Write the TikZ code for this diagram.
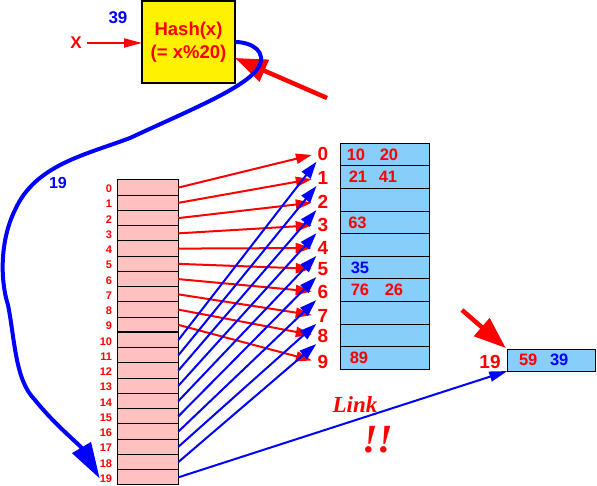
\documentclass[tikz,border=0pt]{standalone}
\usepackage{fontspec}
\setmainfont{Liberation Sans}
\newfontfamily\linkfont{Liberation Serif}
\usetikzlibrary{arrows.meta}
\definecolor{cellpink}{RGB}{255,192,192}
\definecolor{cellblue}{RGB}{135,206,250}
\newcommand{\fs}[1]{\fontsize{#1}{#1}\selectfont\bfseries}

\begin{document}
\begin{tikzpicture}[x=1pt,y=-1pt,
  every node/.style={inner sep=0pt,outer sep=0pt},
  cell/.style={draw,line width=1pt,fill=cellpink,minimum width=61pt,minimum height=15.25pt},
  bucket/.style={draw,line width=1pt,fill=cellblue,minimum width=88.3pt,minimum height=22.6pt},
  idx/.style={text=red,font=\fs{11},anchor=east},
  num/.style={text=red,font=\fs{19}},
  val/.style={font=\fs{16.5},anchor=west},
  redarr/.style={red,line width=2pt,-{Triangle[length=16pt,width=10pt]}},
  bluearr/.style={blue,line width=2pt,-{Triangle[length=17pt,width=11pt]}},
  bigarr/.style={red,line width=4.5pt,-{Triangle[length=32pt,width=23pt]}}]
  \useasboundingbox (0,0) rectangle (597,486);
  % hash function
  \node[draw,line width=2pt,fill=yellow,minimum width=93pt,minimum height=82pt,align=center,text=red,
        font=\fontsize{18.5}{23}\selectfont\bfseries] (hash) at (188.5,42) {Hash(x)\\(= x\%20)};
  \node[text=blue,font=\fs{17}] (key) at (118,18) {39};
  \node[text=red,font=\fs{17}] (x) at (76,43) {X};
  \draw[red,line width=2pt,-{Triangle[length=18pt,width=9pt]},shorten <=5pt] (x.east) -- (x.east -| hash.west);
  \coordinate (ph) at (327,98);
  \draw[bigarr] (ph) -- ([yshift=-16pt]hash.east);
  % hash table, 20 slots
  \foreach \i in {0,...,19} {
    \node[cell] (c\i) at (147.8,187.6+15.25*\i) {};
    \node[idx] (l\i) at (112,188.8+15.25*\i) {\i};
  }
  \draw[line width=2pt] (c9.south west) -- (c9.south east);
  % buckets
  \foreach \i/\y in {0/153.5,1/178,2/202,3/225,4/248,5/269,6/292,7/316,8/336,9/362} {
    \node[bucket] (b\i) at (384.9,154.6+22.6*\i) {};
    \node[num] (n\i) at (323,\y) {\i};
  }
  \foreach \r/\dx/\v/\c in {0/6/10/red,0/39/20/red,1/8/21/red,1/38/41/red,3/7.5/63/red,
                            5/10/35/blue,6/10/76/red,6/44/26/red,9/9/89/red}
    \node[val,text=\c] at ([xshift=\dx]b\r.west) {\v};
  \node[num] (n19) at (490,362) {19};
  \node[bucket,minimum height=21.7pt] (b19) at (551.5,360.2) {};
  \node[val,text=red] at ([xshift=11.7]b19.west) {59};
  \node[val,text=blue] at ([xshift=42.7]b19.west) {39};
  \coordinate (p19) at (462,310);
  \draw[bigarr,shorten >=2pt] (p19) -- (b19.north west);
  % slot -> bucket
  \foreach \i in {0,...,9}
    \draw[redarr,shorten >=6pt] (c\i.east) -- (n\i.west);
  \foreach \i in {0,...,8} {
    \pgfmathtruncatemacro\j{\i+10}
    \draw[bluearr,shorten >=2pt] (c\j.east) -- (n\i.south west);
  }
  \draw[blue,line width=2pt,-{Triangle[length=18pt,width=10pt]}] (c19.east) -- (b19.south west);
  \node[text=red,font=\linkfont\fontsize{23}{23}\selectfont\bfseries\itshape] (link) at (355,405) {Link};
  \node[text=red,font=\linkfont\fontsize{40}{40}\selectfont\bfseries\itshape] (bang) at (378,440) {!!};
  % collision path of 39
  \draw[blue,line width=4pt,-{Triangle[length=36pt,width=21pt]}] (hash.east)
    .. controls (252,42) and (268,52) .. (258,68)
    .. controls (245,88) and (190,110) .. (130,138)
    .. controls (85,155) and (35,165) .. (15,210)
    .. controls (0,240) and (0,280) .. (8,305)
    .. controls (15,340) and (15,380) .. (35,400)
    .. controls (55,425) and (80,445) .. (l19.west);
  \node[text=blue,font=\fs{16}] (hops) at (58,183) {19};
\end{tikzpicture}
\end{document}
